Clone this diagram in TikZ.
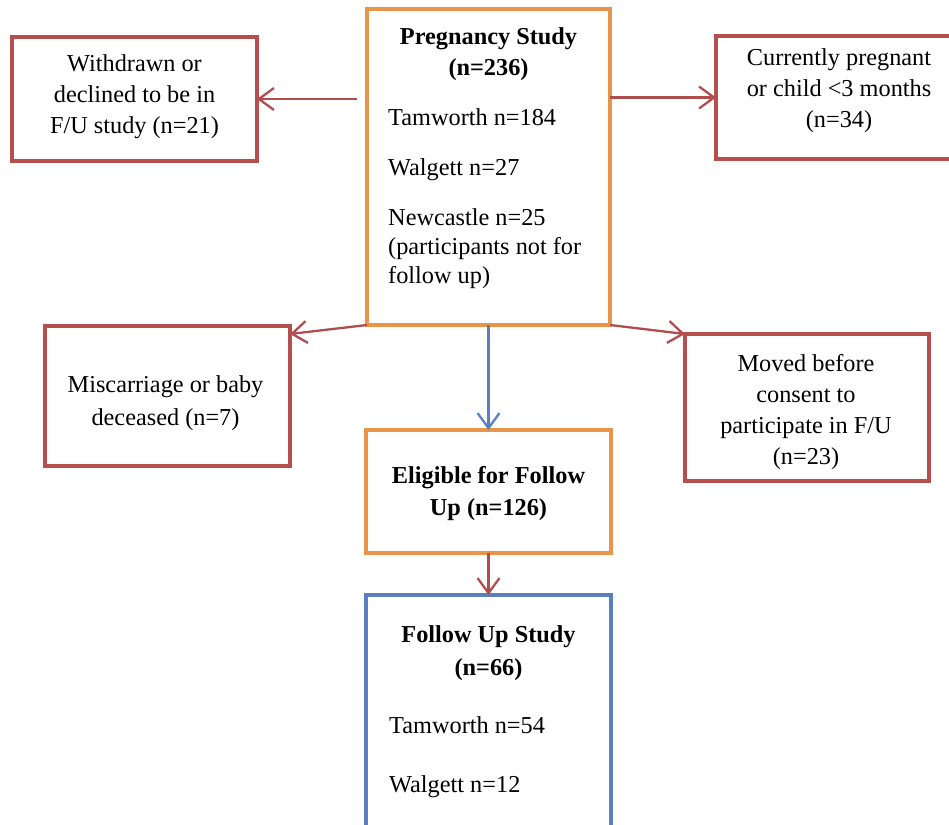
\documentclass[tikz,border=0pt]{standalone}
\usepackage{fontspec}
\setmainfont{Liberation Serif}
\usetikzlibrary{arrows.meta}
\definecolor{boxred}{HTML}{B54E4C}
\definecolor{boxorange}{HTML}{E8954A}
\definecolor{boxblue}{HTML}{5A7FC0}
\definecolor{arrred}{HTML}{B04E4E}
\begin{document}
\begin{tikzpicture}[x=1pt,y=-1pt,
  font=\fontsize{24.3}{31}\selectfont,
  boxbase/.style={draw, line width=4pt, rectangle, outer sep=0pt, inner sep=0pt},
  redbox/.style={boxbase, draw=boxred},
  orangebox/.style={boxbase, draw=boxorange},
  bluebox/.style={boxbase, draw=boxblue},
  boxtext/.style={align=center, inner sep=0pt},
  boldtext/.style={boxtext, font=\fontsize{24.3}{31}\selectfont\bfseries},
  ltext/.style={align=left, inner sep=0pt},
  conn/.style={line width=2.3pt, -{Straight Barb[length=15pt,width=22pt]}},
  redconn/.style={conn, draw=arrred},
  blueconn/.style={conn, draw=boxblue}]
\useasboundingbox (0,0) rectangle (949,824);
\clip (0,0) rectangle (949,824);

% boxes
\node[orangebox, minimum width=243pt, minimum height=316pt] (preg) at (488.5,167) {};
\node[redbox, minimum width=245pt, minimum height=124pt] (wd) at (134.5,99) {};
\node[redbox, minimum width=246pt, minimum height=123pt] (cur) at (839,97.5) {};
\node[redbox, minimum width=245pt, minimum height=140pt] (mis) at (167.5,396) {};
\node[redbox, minimum width=244pt, minimum height=147pt] (mov) at (807,407.5) {};
\node[orangebox, minimum width=245pt, minimum height=123pt] (eli) at (488.5,491.5) {};
\node[bluebox, minimum width=245pt, minimum height=240pt] (fol) at (488.5,715) {};

% texts
\node[boldtext] (pregt) at (488.5,54.5) {Pregnancy Study\\(n=236)};
\node[ltext, anchor=base west] (tam1) at (388,125) {Tamworth n=184};
\node[ltext, anchor=base west] (wal1) at (388,175) {Walgett n=27};
\node[ltext, anchor=north west, font=\fontsize{24.3}{29}\selectfont] (new1) at (388,208.6) {Newcastle n=25\\(participants not for\\follow up)};

\node[boxtext] (wdt) at (134.5,97) {Withdrawn or\\declined to be in\\F/U study (n=21)};
\node[boxtext] (curt) at (839,91) {Currently pregnant\\or child <3 months\\(n=34)};
\node[boxtext, font=\fontsize{24.3}{33}\selectfont] (mist) at (165.5,403) {Miscarriage or baby\\deceased (n=7)};
\node[boxtext] (movt) at (806,412) {Moved before\\consent to\\participate in F/U\\(n=23)};
\node[boldtext, font=\fontsize{24.3}{32}\selectfont\bfseries] (elit) at (488.5,493.5) {Eligible for Follow\\Up (n=126)};

\node[boldtext, font=\fontsize{24.3}{33}\selectfont\bfseries] (folt) at (488.5,653) {Follow Up Study\\(n=66)};
\node[ltext, anchor=base west] (tam2) at (389,733) {Tamworth n=54};
\node[ltext, anchor=base west] (wal2) at (389,792) {Walgett n=12};

% connectors
\draw[redconn] ([xshift=-10pt]preg.west |- wd.east) -- (wd.east);
\draw[redconn] (preg.east |- cur.west) -- (cur.west);
\draw[redconn] (preg.south west) -- ([yshift=-8pt]mis.north east);
\draw[redconn] (preg.south east) -- (mov.north west);
\draw[blueconn] (preg.south) -- (eli.north);
\draw[redconn] (eli.south) -- (fol.north);
\end{tikzpicture}
\end{document}
